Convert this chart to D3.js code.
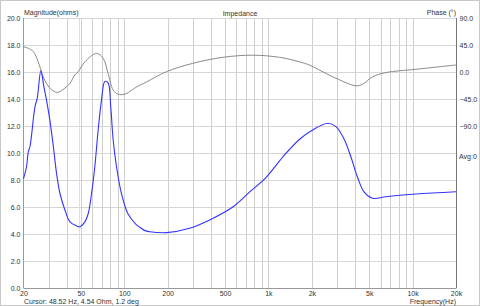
<!DOCTYPE html>
<html>
<head>
<meta charset="utf-8">
<script src="https://cdn.jsdelivr.net/npm/d3@7"></script>
<style>
  html, body { margin: 0; padding: 0; background: #fff; }
  svg text { font-family: "Liberation Sans", Arial, sans-serif; fill: #333; }
</style>
</head>
<body>
<div id="chart"></div>
<script>
// Impedance magnitude (ohms)
const magFreq = [20, 21.0, 21.6, 22.2, 24.0, 24.9, 26.4, 27.7, 28.9, 30.5, 32.2, 33.9, 35.8, 38.7, 42.0, 46.7, 49.2,
    53.3, 56.2, 59.3, 62.5, 65.9, 69.5, 73.3, 77.2, 80.6, 83.7, 88.3, 95.6, 106, 121, 128, 139, 150, 196, 284, 391,
    566, 739, 964, 1256, 1639, 2025, 2573, 2942, 3358, 3736, 4150, 4617, 5272, 6526, 10522, 20000];
const magOhms = [8.1, 9.0, 10.1, 10.5, 13.4, 14.05, 16.1, 14.9, 13.9, 12.4, 10.5, 8.5, 7.0, 5.8, 4.9, 4.6, 4.54,
    4.9, 5.5, 7.0, 9.0, 11.7, 13.9, 15.3, 15.2, 13.4, 11.0, 9.0, 7.0, 5.5, 4.7, 4.5, 4.25, 4.17, 4.1, 4.42, 5.04,
    6.0, 7.1, 8.2, 9.7, 11.0, 11.7, 12.2, 11.95, 11.0, 9.7, 8.2, 7.1, 6.65, 6.76, 6.96, 7.13];

// Phase (degrees)
const phaseFreq = [20, 21.6, 23.4, 25.3, 27.4, 30.5, 34.3, 37.7, 42.0, 45.4, 47.9, 53.3, 64.2, 71.3, 77.2, 83.7,
    90.6, 100.8, 118, 128, 139, 196, 299, 483, 778, 1192, 1639, 1922, 2254, 2942, 4046, 4494, 5272, 6526, 10522, 20000];
const phaseDeg = [42, 39.5, 34, 17, -8, -27, -34, -29, -19, -5, 0.5, 17, 31, 23, -2, -30,
    -37, -37, -27, -22, -18, 0.5, 14.5, 24.5, 28, 24.5, 17, 11.7, 3.3, -10.5, -23, -20.5, -8, -1, 4.5, 11.7];

const magTicks = [0, 2, 4, 6, 8, 10, 12, 14, 16, 18, 20];
const phaseTicks = [90, 45, 0, -45, -90];
const freqTicks = [20, 50, 100, 200, 500, 1000, 2000, 5000, 10000, 20000];
const freqTickLabels = ["20", "50", "100", "200", "500", "1k", "2k", "5k", "10k", "20k"];
const cursorFreq = 48.52;

const W = 480, H = 306;
const svg = d3.select("#chart").append("svg")
    .attr("width", W).attr("height", H);

svg.append("rect")
    .attr("x", 0.5).attr("y", 0.5)
    .attr("width", W - 1).attr("height", H - 1)
    .attr("fill", "#fff").attr("stroke", "#c8c8c8");

const x = d3.scaleLog().domain([20, 20000]).range([23.5, 456]);
const yMag = d3.scaleLinear().domain([0, 20]).range([288, 18]);
const yPhase = d3.scaleLinear().domain([-360, 90]).range([288, 18]);

// Vertical grid: every 1-2-3..9 step of each decade
const gridFreqs = [];
[10, 100, 1000, 10000].forEach(dec => {
    for (let k = 1; k <= 9; k++) {
        const f = dec * k;
        if (f > 20 && f < 20000) gridFreqs.push(f);
    }
});

svg.append("g").selectAll("line")
    .data(gridFreqs)
    .join("line")
    .attr("x1", d => Math.round(x(d)) + 0.5).attr("x2", d => Math.round(x(d)) + 0.5)
    .attr("y1", yMag(20)).attr("y2", yMag(0))
    .attr("stroke", "#cfcfcf").attr("stroke-width", 1);

svg.append("g").selectAll("line")
    .data(magTicks)
    .join("line")
    .attr("x1", x(20)).attr("x2", x(20000))
    .attr("y1", d => Math.round(yMag(d)) + 0.5).attr("y2", d => Math.round(yMag(d)) + 0.5)
    .attr("stroke", "#d6d6d6").attr("stroke-width", 1);

// Cursor line
svg.append("line")
    .attr("x1", Math.round(x(cursorFreq)) + 0.5).attr("x2", Math.round(x(cursorFreq)) + 0.5)
    .attr("y1", yMag(20)).attr("y2", yMag(0))
    .attr("stroke", "#f2e29a").attr("stroke-width", 1);

// Plot frame
svg.append("line")
    .attr("x1", 23.5).attr("x2", 23.5).attr("y1", yMag(20)).attr("y2", yMag(0))
    .attr("stroke", "#999");
svg.append("line")
    .attr("x1", 456.5).attr("x2", 456.5).attr("y1", yMag(20)).attr("y2", yMag(0))
    .attr("stroke", "#777");
svg.append("line")
    .attr("x1", 23.5).attr("x2", 456.5).attr("y1", 288.5).attr("y2", 288.5)
    .attr("stroke", "#999");

// Axes (labels only)
const leftAxis = svg.append("g")
    .attr("transform", "translate(23.5,0)")
    .call(d3.axisLeft(yMag).tickValues(magTicks).tickFormat(d3.format(".1f")).tickSize(0).tickPadding(3));
const rightAxis = svg.append("g")
    .attr("transform", "translate(456.5,0)")
    .call(d3.axisRight(yPhase).tickValues(phaseTicks).tickFormat(d3.format(".1f")).tickSize(0).tickPadding(3));
const bottomAxis = svg.append("g")
    .attr("transform", "translate(0,288)")
    .call(d3.axisBottom(x).tickValues(freqTicks)
        .tickFormat((d, i) => freqTickLabels[i]).tickSize(0).tickPadding(3));

[leftAxis, rightAxis, bottomAxis].forEach(g => {
    g.select(".domain").remove();
    g.selectAll("text").attr("font-size", 7).attr("fill", "#333")
        .style("font-family", "'Liberation Sans', Arial, sans-serif");
});

// Curves
const phaseLine = d3.line()
    .x(d => x(d[0]))
    .y(d => yPhase(d[1]))
    .curve(d3.curveCatmullRom.alpha(0.5));
svg.append("path")
    .datum(d3.zip(phaseFreq, phaseDeg))
    .attr("fill", "none")
    .attr("stroke", "#8a8a8a")
    .attr("stroke-width", 1)
    .attr("d", phaseLine);

const magLine = d3.line()
    .x(d => x(d[0]))
    .y(d => yMag(d[1]))
    .curve(d3.curveCatmullRom.alpha(0.5));
svg.append("path")
    .datum(d3.zip(magFreq, magOhms))
    .attr("fill", "none")
    .attr("stroke", "#3333ff")
    .attr("stroke-width", 1.1)
    .attr("d", magLine);

// Titles and captions
const label = (tx, ty, txt, anchor) => svg.append("text")
    .attr("x", tx).attr("y", ty)
    .attr("font-size", 7)
    .attr("text-anchor", anchor || "start")
    .text(txt);

label(24, 15, "Magnitude(ohms)");
label(240, 15.5, "Impedance", "middle");
label(456, 15, "Phase (°)", "end");
label(459, 158.5, "Avg:0");
label(24, 303.5, "Cursor: 48.52 Hz, 4.54 Ohm, 1.2 deg");
label(456, 303.5, "Frequency(Hz)", "end");
</script>
</body>
</html>
